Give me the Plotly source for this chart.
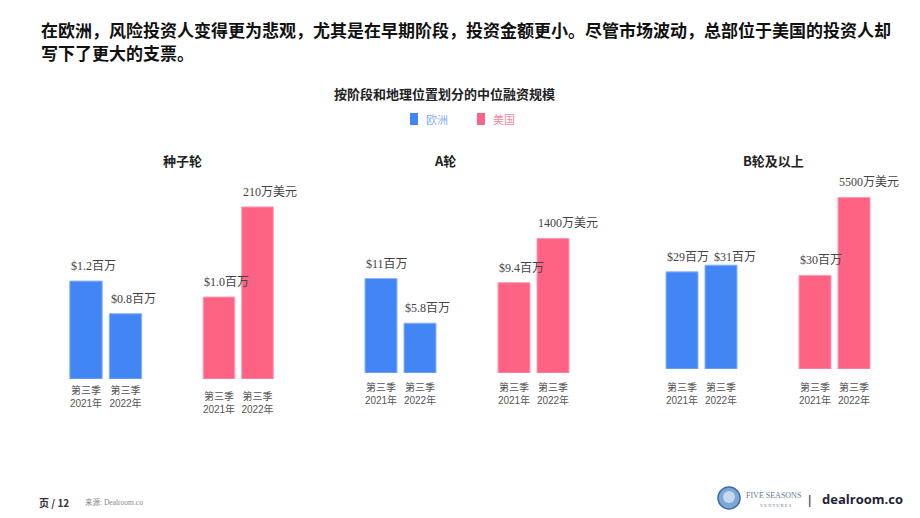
import plotly.graph_objects as go

# ---------------- data ----------------
stages = ["种子轮", "A轮", "B轮及以上"]
quarters = ["第三季<br>2021年", "第三季<br>2022年"]
regions = ["欧洲", "美国"]
eu_values = [[1.2, 0.8], [11, 5.8], [29, 31]]
us_values = [[1.0, 2.1], [9.4, 14], [30, 55]]
eu_labels = [["$1.2百万", "$0.8百万"], ["$11百万", "$5.8百万"], ["$29百万", "$31百万"]]
us_labels = [["$1.0百万", "210万美元"], ["$9.4百万", "1400万美元"], ["$30百万", "5500万美元"]]

title_lines = ["在欧洲，风险投资人变得更为悲观，尤其是在早期阶段，投资金额更小。尽管市场波动，总部位于美国的投资人却",
               "写下了更大的支票。"]
chart_title = "按阶段和地理位置划分的中位融资规模"

# ---------------- layout helpers ----------------
W, H = 920, 518
def px(x):
    return x / W
def py(y):
    return 1 - y / H

BLUE = "#4285f4"
PINK = "#ff6384"
CJK = "Noto Sans CJK SC"
SERIF = "Liberation Serif, " + CJK
SANS = "Liberation Sans, " + CJK

# subplot geometry: (x0px, x1px, baseline px, y-range max, tick standoff)
geom = [
    (66.25, 145.25, 379, 2.50, 4),
    (199.75, 276.75, 379, 2.49, 10),
    (361.5, 439.5, 373, 23.05, 7),
    (494.5, 572.5, 373, 20.6, 7),
    (662.5, 740.5, 369, 57.9, 11),
    (795.5, 873.5, 369, 62.2, 11),
]
TOP = 175
# label placement tweaks (subplot index, bar index) -> (dx px, dy px)
label_nudge = {(5, 1): (8, -7)}

series = []
for s in range(3):
    series.append((eu_values[s], eu_labels[s], BLUE, "#8fb3f8"))
    series.append((us_values[s], us_labels[s], PINK, "#ff9bb0"))

fig = go.Figure()
annotations = []
for i, ((vals, labs, col, edge), (x0, x1, base, ymax, standoff)) in enumerate(zip(series, geom), start=1):
    fig.add_trace(go.Bar(
        x=quarters, y=vals, xaxis=f"x{i}", yaxis=f"y{i}",
        marker=dict(color=col, line=dict(color=edge, width=1)),
        showlegend=False, hoverinfo="skip",
    ))
    fig.layout[f"xaxis{i}"] = dict(
        domain=[px(x0), px(x1)], anchor=f"y{i}", showgrid=False, showline=False,
        zeroline=False, ticks="", ticklabelstandoff=standoff, tickangle=0,
        type="category", range=[-0.5, 1.5],
        tickfont=dict(family=SANS, size=10, color="#555"), fixedrange=True,
    )
    fig.layout[f"yaxis{i}"] = dict(
        domain=[py(base), py(TOP)], anchor=f"x{i}", range=[0, ymax], visible=False,
        fixedrange=True,
    )
    for j, (q, v, t) in enumerate(zip(quarters, vals, labs)):
        dx, dy = label_nudge.get((i, j), (0, 0))
        annotations.append(dict(
            x=q, y=v, xref=f"x{i}", yref=f"y{i}", text=t, showarrow=False,
            xanchor="left", xshift=-17 + dx, yanchor="middle", yshift=15 + dy,
            font=dict(family=SERIF, size=12, color="#444"),
        ))

# stage titles
stage_x = [182, 445, 773]
for name, cx in zip(stages, stage_x):
    annotations.append(dict(
        x=px(cx), y=py(161), xref="paper", yref="paper", text=f"<b>{name}</b>",
        showarrow=False, xanchor="center", yanchor="middle",
        font=dict(family=CJK, size=13, color="#222"),
    ))

# main title (two lines)
for line, ly in zip(title_lines, [30, 52]):
    annotations.append(dict(
        x=px(39), y=py(ly), xref="paper", yref="paper", text=f"<b>{line}</b>",
        showarrow=False, xanchor="left", yanchor="middle", align="left",
        font=dict(family=CJK, size=17, color="#111"),
    ))
# chart title
annotations.append(dict(
    x=px(444.5), y=py(94), xref="paper", yref="paper", text=f"<b>{chart_title}</b>",
    showarrow=False, xanchor="center", yanchor="middle",
    font=dict(family=CJK, size=13, color="#222"),
))

# legend (manual)
shapes = []
legend_items = [(regions[0], BLUE, "#86aef7", 410), (regions[1], PINK, "#f4889b", 477)]
for name, col, tcol, lx in legend_items:
    shapes.append(dict(type="rect", xref="paper", yref="paper",
                       x0=px(lx), x1=px(lx + 8), y0=py(125), y1=py(113),
                       fillcolor=col, line=dict(width=0)))
    annotations.append(dict(
        x=px(lx + 14), y=py(119), xref="paper", yref="paper", text=name,
        showarrow=False, xanchor="left", yanchor="middle",
        font=dict(family=CJK, size=11, color=tcol),
    ))

# footer
annotations.append(dict(
    x=px(37), y=py(502), xref="paper", yref="paper", text="<b>页 / 12</b>",
    showarrow=False, xanchor="left", yanchor="middle",
    font=dict(family=CJK, size=10, color="#333"),
))
annotations.append(dict(
    x=px(83), y=py(502), xref="paper", yref="paper", text="来源: Dealroom.co",
    showarrow=False, xanchor="left", yanchor="middle",
    font=dict(family=SERIF, size=7.5, color="#888"),
))
# logo
shapes.append(dict(type="circle", xref="paper", yref="paper",
                   x0=px(718), x1=px(740), y0=py(509), y1=py(487),
                   fillcolor="#7ea6d6", line=dict(color="#3e6ea8", width=1.5)))
shapes.append(dict(type="circle", xref="paper", yref="paper",
                   x0=px(723), x1=px(735), y0=py(503), y1=py(491),
                   fillcolor="#c5d8ee", line=dict(width=0)))
annotations.append(dict(
    x=px(744), y=py(495), xref="paper", yref="paper", text="FIVE SEASONS",
    showarrow=False, xanchor="left", yanchor="middle",
    font=dict(family="Liberation Serif", size=8, color="#6a7c90"),
))
annotations.append(dict(
    x=px(758), y=py(505), xref="paper", yref="paper", text="V E N T U R E S",
    showarrow=False, xanchor="left", yanchor="middle",
    font=dict(family="Liberation Serif", size=4.5, color="#6a7c90"),
))
annotations.append(dict(
    x=px(809), y=py(499), xref="paper", yref="paper", text="|",
    showarrow=False, xanchor="center", yanchor="middle",
    font=dict(family="Liberation Sans", size=13, color="#333"),
))
annotations.append(dict(
    x=px(820), y=py(499), xref="paper", yref="paper", text="<b>dealroom.co</b>",
    showarrow=False, xanchor="left", yanchor="middle",
    font=dict(family="Open Sans, Liberation Sans", size=13, color="#1b2536"),
))

fig.update_layout(
    width=W, height=H, margin=dict(l=0, r=0, t=0, b=0),
    paper_bgcolor="white", plot_bgcolor="white",
    barmode="overlay", bargap=0.18, annotations=annotations, shapes=shapes, showlegend=False,
    font=dict(family=CJK),
)

fig.write_html("out.html", config={"displayModeBar": False})
